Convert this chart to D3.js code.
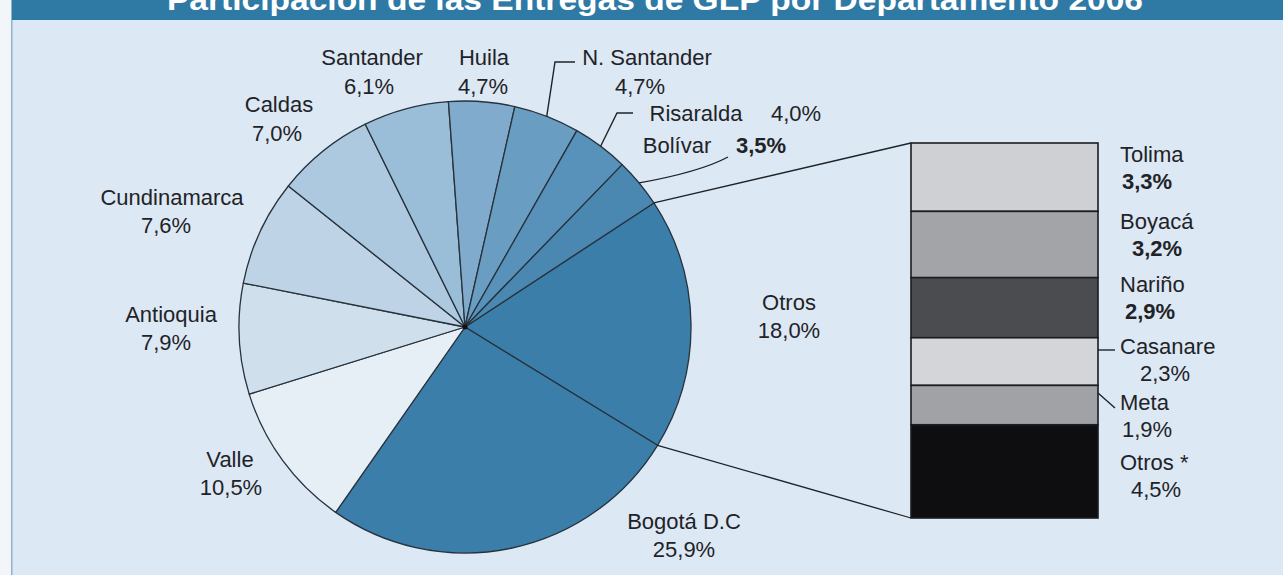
<!DOCTYPE html>
<html>
<head>
<meta charset="utf-8">
<script src="https://cdn.jsdelivr.net/npm/d3@7"></script>
<style>
  html, body { margin: 0; padding: 0; background: #f3f6f9; }
  svg { display: block; }
  text { font-family: "Liberation Sans", Arial, sans-serif; fill: #1f2328; }
</style>
</head>
<body>
<svg id="chart" width="1283" height="575"></svg>
<script>
// ---- Data ----
const titleText = "Participación de las Entregas de GLP por Departamento 2006";

// Main pie, clockwise starting with the "Otros" group that is broken out on the right
const pieNames  = ["Otros", "Bogotá D.C", "Valle", "Antioquia", "Cundinamarca", "Caldas",
                   "Santander", "Huila", "N. Santander", "Risaralda", "Bolívar"];
const pieValues = [18.0, 25.9, 10.5, 7.9, 7.6, 7.0, 6.1, 4.7, 4.7, 4.0, 3.5];
const pieLabels = ["18,0%", "25,9%", "10,5%", "7,9%", "7,6%", "7,0%",
                   "6,1%", "4,7%", "4,7%", "4,0%", "3,5%"];

// Breakdown of "Otros"
const barNames  = ["Tolima", "Boyacá", "Nariño", "Casanare", "Meta", "Otros *"];
const barValues = [3.3, 3.2, 2.9, 2.3, 1.9, 4.5];
const barLabels = ["3,3%", "3,2%", "2,9%", "2,3%", "1,9%", "4,5%"];

// ---- Styling / layout ----
const pieColors = {
  "Otros": "#3b7ea9", "Bogotá D.C": "#3b7ea9", "Valle": "#e6eef6", "Antioquia": "#cfdfec",
  "Cundinamarca": "#bed4e6", "Caldas": "#adc9df", "Santander": "#9abdd8", "Huila": "#80abcc",
  "N. Santander": "#6a9dc2", "Risaralda": "#5892ba", "Bolívar": "#4a88b2"
};
const barColors = ["#cfd0d3", "#a2a4a7", "#4b4c50", "#d3d5d8", "#a0a2a6", "#0e0e10"];

// name/value label anchors for the pie (middle-anchored unless noted)
const pieLabelPos = {
  "Otros":        { nx: 789, ny: 310, vx: 789, vy: 338 },
  "Bogotá D.C":   { nx: 684, ny: 529, vx: 684, vy: 557 },
  "Valle":        { nx: 230, ny: 467, vx: 231, vy: 495 },
  "Antioquia":    { nx: 171, ny: 322, vx: 166, vy: 350 },
  "Cundinamarca": { nx: 172, ny: 205, vx: 166, vy: 233 },
  "Caldas":       { nx: 279, ny: 112, vx: 277, vy: 141 },
  "Santander":    { nx: 372, ny: 65,  vx: 369, vy: 94 },
  "Huila":        { nx: 484, ny: 65,  vx: 483, vy: 94 },
  "N. Santander": { nx: 647, ny: 65,  vx: 640, vy: 94 },
  "Risaralda":    { nx: 696, ny: 121, vx: 796, vy: 121 },
  "Bolívar":      { nx: 677, ny: 153, vx: 761, vy: 153, bold: true }
};
const barLabelPos = [
  { vx: 1147, bold: true }, { vx: 1157, bold: true }, { vx: 1150, bold: true },
  { vx: 1165 }, { vx: 1147 }, { vx: 1156 }
];

const W = 1283, H = 575;
const cx = 465, cy = 327, R = 226;
const bar = { x0: 911, x1: 1098, y0: 143, y1: 518 };
const fontSize = 22;

const svg = d3.select("#chart");

// panel background and left rule
svg.append("rect").attr("x", 0).attr("y", 0).attr("width", W).attr("height", H).attr("fill", "#f3f6f9");
svg.append("rect").attr("x", 12).attr("y", 0).attr("width", W - 12).attr("height", H).attr("fill", "#dce8f3");
svg.append("rect").attr("x", 11).attr("y", 0).attr("width", 1.5).attr("height", H).attr("fill", "#8fb2d0");

// title band
svg.append("rect").attr("x", 12).attr("y", 0).attr("width", W - 12).attr("height", 20).attr("fill", "#2f79a5");
svg.append("text")
  .attr("x", 655).attr("y", 10)
  .attr("text-anchor", "middle")
  .attr("textLength", 976).attr("lengthAdjust", "spacingAndGlyphs")
  .style("font-size", "30px").style("font-weight", "bold").style("fill", "#ffffff")
  .text(titleText);

// ---- Pie ----
const startA = 56.7 * Math.PI / 180;
const pie = d3.pie().sort(null).value(d => d.v).startAngle(startA).endAngle(startA + 2 * Math.PI);
const pieData = pie(pieNames.map((n, i) => ({ n, v: pieValues[i], lbl: pieLabels[i] })));
const arc = d3.arc().innerRadius(0).outerRadius(R);
const edge = a => [cx + R * Math.sin(a), cy - R * Math.cos(a)];

const gPie = svg.append("g").attr("transform", `translate(${cx},${cy})`);
gPie.selectAll("path.slice")
  .data(pieData).join("path")
  .attr("class", "slice")
  .attr("d", arc)
  .attr("fill", d => pieColors[d.data.n])
  .attr("stroke", "#27323c")
  .attr("stroke-width", 1.3)
  .attr("stroke-linejoin", "round");
gPie.append("circle").attr("r", 2.5).attr("fill", "#111");

// pie labels
pieData.forEach(d => {
  const p = pieLabelPos[d.data.n];
  svg.append("text").attr("x", p.nx).attr("y", p.ny).attr("text-anchor", "middle")
    .style("font-size", fontSize + "px").text(d.data.n);
  svg.append("text").attr("x", p.vx).attr("y", p.vy).attr("text-anchor", "middle")
    .style("font-size", fontSize + "px").style("font-weight", p.bold ? "bold" : "normal")
    .text(d.data.lbl);
});

// leader lines for the small top-right slices
const byName = Object.fromEntries(pieData.map(d => [d.data.n, d]));
const mid = d => (d.startAngle + d.endAngle) / 2;
const leader = svg.append("g").attr("fill", "none").attr("stroke", "#1f2328").attr("stroke-width", 1.4);
{
  const [x, y] = edge(mid(byName["N. Santander"]));
  leader.append("path").attr("d", `M${x},${y} L555,62 L575,62`);
}
{
  const [x, y] = edge(mid(byName["Risaralda"]));
  leader.append("path").attr("d", `M${x},${y} L617,113 L633,113`);
}
{
  const [x, y] = edge(mid(byName["Bolívar"]));
  leader.append("path").attr("d", `M${x},${y} Q700,172 728,157`);
}

// connectors from the "Otros" slice to the breakdown bar
const otros = byName["Otros"];
const pA = edge(otros.startAngle), pB = edge(otros.endAngle);
svg.append("line").attr("x1", pA[0]).attr("y1", pA[1]).attr("x2", bar.x0).attr("y2", bar.y0)
  .attr("stroke", "#1f2328").attr("stroke-width", 1.3);
svg.append("line").attr("x1", pB[0]).attr("y1", pB[1]).attr("x2", bar.x0).attr("y2", bar.y1)
  .attr("stroke", "#1f2328").attr("stroke-width", 1.3);

// ---- Breakdown bar ----
const total = d3.sum(barValues);
const y = d3.scaleLinear().domain([0, total]).range([bar.y0, bar.y1]);
const cum = d3.cumsum(barValues);
const segs = barNames.map((n, i) => ({ n, v: barValues[i], lbl: barLabels[i], a: cum[i] - barValues[i], b: cum[i] }));

svg.append("g").selectAll("rect")
  .data(segs).join("rect")
  .attr("x", bar.x0).attr("width", bar.x1 - bar.x0)
  .attr("y", d => y(d.a)).attr("height", d => y(d.b) - y(d.a))
  .attr("fill", (d, i) => barColors[i])
  .attr("stroke", "#1b1c1f").attr("stroke-width", 1.6);

const nameY = [162, 229, 292, 354, 410, 470];
segs.forEach((d, i) => {
  svg.append("text").attr("x", 1120).attr("y", nameY[i])
    .style("font-size", fontSize + "px").text(d.n);
  svg.append("text").attr("x", barLabelPos[i].vx).attr("y", nameY[i] + 27).attr("text-anchor", "middle")
    .style("font-size", fontSize + "px").style("font-weight", barLabelPos[i].bold ? "bold" : "normal")
    .text(d.lbl);
});

// short leaders for Casanare and Meta
const casY = 350, metaY0 = 393;
leader.append("path").attr("d", `M${bar.x1},${casY} L1115,${casY}`);
leader.append("path").attr("d", `M${bar.x1},${metaY0} L1115,408`);
</script>
</body>
</html>
